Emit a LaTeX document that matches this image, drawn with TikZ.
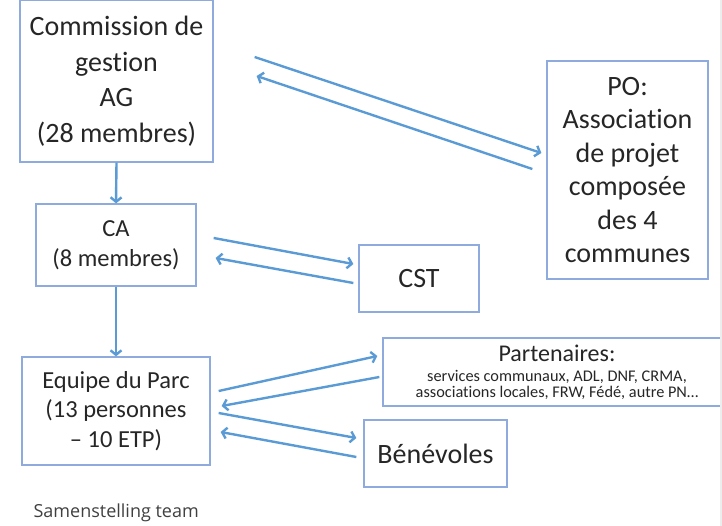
\documentclass[tikz,border=0pt]{standalone}
\usepackage{fontspec}
\setmainfont{Carlito}[Ligatures=NoCommon]
\newfontfamily\legende{Open Sans}
\usepackage{xcolor}
\usetikzlibrary{calc}
\usetikzlibrary{arrows.meta}

\definecolor{bordbleu}{HTML}{8FAADC}
\definecolor{flechebleu}{HTML}{5B9BD5}
\definecolor{texte}{HTML}{262626}

\begin{document}
\begin{tikzpicture}[x=1pt,y=-1pt]

\tikzset{
    box/.style = {
    draw=bordbleu,
    line width=1.3pt,
    text=texte,
    align=center,
    inner sep=0pt
    }
}

\tikzstyle{fleche}=[flechebleu, line width=2.4pt, -{Straight Barb[length=4.5pt,width=11pt]}]

\useasboundingbox (0,0) rectangle (722,526);

% structure
\node (ag) [box, minimum width=193pt, minimum height=162pt, font=\fontsize{28}{35.5}\selectfont] at (116.5,81) {Commission de\\gestion\\AG\\(28 membres)};
\node (ca) [box, minimum width=160pt, minimum height=82pt, font=\fontsize{24.5}{30}\selectfont] at (116,245) {CA\\(8 membres)};
\node (equipe) [box, minimum width=188pt, minimum height=108pt, font=\fontsize{24.5}{29.5}\selectfont] at (116,411) {Equipe du Parc\\(13 personnes\\-- 10 ETP)};

% autour
\node (po) [box, minimum width=161pt, minimum height=218pt, font=\fontsize{28}{33.5}\selectfont] at (627.5,170) {PO:\\Association\\de projet\\composée\\des 4\\communes};
\node (cst) [box, minimum width=120pt, minimum height=67pt, font=\fontsize{28}{33}\selectfont] at (419,278.5) {CST};
\node (part) [box, minimum width=348pt, minimum height=68pt, font=\fontsize{16.3}{15.5}\selectfont] at (557,372) {{\fontsize{24}{24}\selectfont Partenaires:}\\[5pt]services communaux, ADL, DNF, CRMA,\\associations locales, FRW, Fédé, autre PN\dots};
\node (benev) [box, minimum width=143pt, minimum height=67pt, font=\fontsize{28}{33}\selectfont] at (435.5,453.5) {Bénévoles};

\draw[fleche] (ag.south) -- (ca.north);
\draw[fleche] (ca.south) -- (equipe.north);

\draw[fleche] ($(ag.east)+(41,-24)$) -- ($(po.west)+(-5,-17)$);
\draw[fleche] ($(po.west)+(-14,-1)$) -- ($(ag.east)+(43,-5)$);

\draw[fleche] ($(ca.east)+(17,-7)$) -- ($(cst.west)+(-5,-14.5)$);
\draw[fleche] ($(cst.west)+(-5,4.5)$) -- ($(ca.east)+(19,13)$);

\draw[fleche] ($(equipe.east)+(8,-20)$) -- ($(part.west)+(-5,-16)$);
\draw[fleche] ($(part.west)+(-3,5)$) -- ($(equipe.east)+(11,-5)$);
\draw[fleche] ($(equipe.east)+(8,2)$) -- ($(benev.west)+(-7,-15.5)$);
\draw[fleche] ($(benev.west)+(-7,3.5)$) -- ($(equipe.east)+(10,21)$);

\node (titre) [anchor=west, text=black!75, font=\legende\fontsize{18}{20}\selectfont] at (30,513) {Samenstelling team};

\fill[black!7] (720,0) rectangle (722,526);

\end{tikzpicture}
\end{document}
